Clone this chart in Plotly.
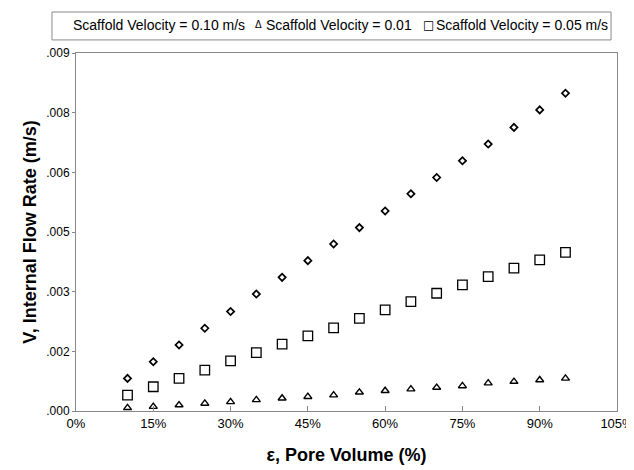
import plotly.graph_objects as go

pore_volume = [10, 15, 20, 25, 30, 35, 40, 45, 50, 55, 60, 65, 70, 75, 80, 85, 90, 95]
v_010 = [0.00082, 0.00124, 0.00166, 0.00208, 0.00250, 0.00294, 0.00336, 0.00378, 0.00420,
         0.00461, 0.00503, 0.00546, 0.00587, 0.00629, 0.00671, 0.00713, 0.00757, 0.00799]
v_005 = [0.00040, 0.00061, 0.00082, 0.00103, 0.00126, 0.00147, 0.00168, 0.00189, 0.00209,
         0.00233, 0.00254, 0.00275, 0.00296, 0.00317, 0.00338, 0.00359, 0.00380, 0.00399]
v_001 = [0.00008, 0.00011, 0.00015, 0.00019, 0.00023, 0.00028, 0.00032, 0.00036, 0.00040,
         0.00047, 0.00051, 0.00055, 0.00059, 0.00063, 0.00070, 0.00074, 0.00078, 0.00082]

y_tickvals = [0, 0.0015, 0.003, 0.0045, 0.006, 0.0075, 0.009]
y_ticktext = [".000", ".002", ".003", ".005", ".006", ".008", ".009"]
x_tickvals = [0, 15, 30, 45, 60, 75, 90, 105]
x_ticktext = ["0%", "15%", "30%", "45%", "60%", "75%", "90%", "105%"]

names = ["Scaffold Velocity = 0.10 m/s", "Scaffold Velocity = 0.01", "Scaffold Velocity = 0.05 m/s"]

FONT = "Liberation Sans, Arial, sans-serif"

fig = go.Figure()
fig.add_trace(go.Scatter(x=pore_volume, y=v_010, mode="markers", name=names[0],
                         marker=dict(symbol="diamond-open", size=5.5, color="black",
                                     line=dict(width=1.7, color="black"))))
fig.add_trace(go.Scatter(x=pore_volume, y=v_001, mode="markers", name=names[1],
                         marker=dict(symbol="triangle-up-open", size=7, color="black",
                                     line=dict(width=1.4, color="black"))))
fig.add_trace(go.Scatter(x=pore_volume, y=v_005, mode="markers", name=names[2],
                         marker=dict(symbol="square-open", size=9.5, color="black",
                                     line=dict(width=1.3, color="black"))))

# Legend drawn as a boxed row of text (as in the reference)
legend_y = 1.0796
annotations = [
    dict(text=names[0], x=-0.0074, xanchor="left"),
    dict(text="Δ", x=0.3373, xanchor="center", font=dict(size=10, family=FONT, color="black")),
    dict(text=names[1], x=0.3494, xanchor="left"),
    dict(text="□", x=0.6516, xanchor="center", font=dict(size=12, family="DejaVu Sans", color="black")),
    dict(text=names[2], x=0.6636, xanchor="left"),
]
for a in annotations:
    a.setdefault("font", dict(size=14, family=FONT, color="black"))
    a.update(xref="paper", yref="paper", y=legend_y, yanchor="middle", showarrow=False, borderpad=0)

# page body adds an 8px offset, so the figure is sized 626x462
fig.update_layout(
    width=626, height=462,
    margin=dict(l=68, r=17, t=45, b=59, autoexpand=False),
    paper_bgcolor="white", plot_bgcolor="white",
    font=dict(family=FONT, size=12, color="black"),
    showlegend=False,
    annotations=annotations,
    shapes=[dict(type="rect", xref="paper", yref="paper", x0=-0.0444, x1=0.989,
                 y0=1.0365, y1=1.1145, line=dict(color="#888", width=1), fillcolor="white",
                 layer="below")],
)
fig.update_xaxes(range=[0, 105], tickvals=x_tickvals, ticktext=x_ticktext, automargin=False,
                 showgrid=False, zeroline=False, showline=True, linecolor="#888", linewidth=1,
                 mirror=True, ticks="inside", ticklen=5, tickcolor="#888",
                 tickfont=dict(size=13), ticklabeloverflow="allow",
                 title=dict(text="<b>ε, Pore Volume (%)</b>", font=dict(size=18), standoff=18))
fig.update_yaxes(range=[0, 0.009], tickvals=y_tickvals, ticktext=y_ticktext, automargin=False,
                 showgrid=False, zeroline=False, showline=True, linecolor="#888", linewidth=1,
                 mirror=True, ticks="outside", ticklen=3, tickcolor="#888",
                 tickfont=dict(size=12),
                 title=dict(text="<b>V, Internal Flow Rate (m/s)</b>", font=dict(size=18), standoff=4))

fig.write_html("out.html")
